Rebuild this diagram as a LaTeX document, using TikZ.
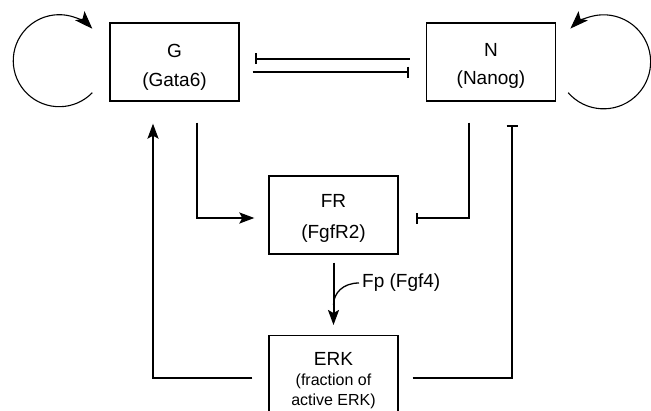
\documentclass[tikz,border=0pt]{standalone}
\usepackage{fontspec}
\setmainfont{Liberation Sans}
\usetikzlibrary{arrows.meta}
\newcommand\diagbig{\fontsize{19}{22}\selectfont}
\newcommand\diagsmall{\fontsize{16}{19.5}\selectfont}
\newcommand\diagtop[1]{\rule{0pt}{#1}}
\begin{document}
\begin{tikzpicture}[x=1pt,y=-1pt,
  box/.style={draw, line width=1.3pt, minimum width=129pt, minimum height=78pt, inner sep=0pt, align=center, font=\diagbig},
  act/.style={line width=2pt, -{Stealth[length=15pt,width=11pt,inset=3pt]}},
  inh/.style={line width=2pt, -{Bar[width=11pt,line width=2pt]}},
  selfloop/.style={line width=1.1pt, -{Stealth[length=18pt,width=13pt,inset=4pt]}}]
\useasboundingbox (0,0) rectangle (651,410);
\clip (0,0) rectangle (651,410);
\node[box] (G) at (174.5,62) {\diagtop{24pt}G\\[7.4pt](Gata6)};
\node[box] (N) at (491,62) {\diagtop{20.3pt}N\\[6.3pt](Nanog)};
\node[box] (FR) at (333.5,215) {\diagtop{20pt}FR\\[8.6pt](FgfR2)};
\node[box, minimum height=82pt, anchor=north, font=\fontsize{19}{20}\selectfont] (ERK) at (333.5,335) {\diagtop{21pt}ERK\\[0.5pt]\diagsmall (fraction of\\\diagsmall active ERK)};
\node[font=\diagbig, anchor=west, inner sep=0pt] (Fp) at (362,283) {Fp (Fgf4)};
\coordinate (fpjoin) at (333.5,305);
% mutual inhibition
\draw[inh] ([xshift=-16pt,yshift=3.5pt]N.west) -- ([xshift=15pt,yshift=3.5pt]G.east);
\draw[inh] ([xshift=13pt,yshift=-10pt]G.east) -- ([xshift=-17pt,yshift=-10pt]N.west);
% self loops
\draw[selfloop] ([shift={(-17pt,9pt)}]G.south west) arc[start angle=-44, end angle=-316, radius=46pt];
\draw[selfloop] ([shift={(12pt,9pt)}]N.south east) arc[start angle=-139, end angle=135, radius=47pt];
% to FR
\draw[act] ([xshift=22.5pt,yshift=-21pt]G.south) |- ([xshift=-14pt,yshift=-3pt]FR.west);
\draw[inh] ([xshift=-22pt,yshift=-21pt]N.south) |- ([xshift=17pt,yshift=-3pt]FR.east);
% FR to ERK
\draw[act] ([yshift=-8pt]FR.south) -- ([yshift=10pt]ERK.north);
\draw[line width=1.3pt] ([xshift=-3pt]Fp.west) .. controls +(-16,0) and +(0,-12) .. (fpjoin);
% ERK feedback
\draw[act] ([xshift=-16pt,yshift=-1pt]ERK.west) -| ([xshift=-21.5pt,yshift=-22pt]G.south);
\draw[inh] ([xshift=14pt,yshift=-1pt]ERK.east) -| ([xshift=21pt,yshift=-23pt]N.south);
\end{tikzpicture}
\end{document}
